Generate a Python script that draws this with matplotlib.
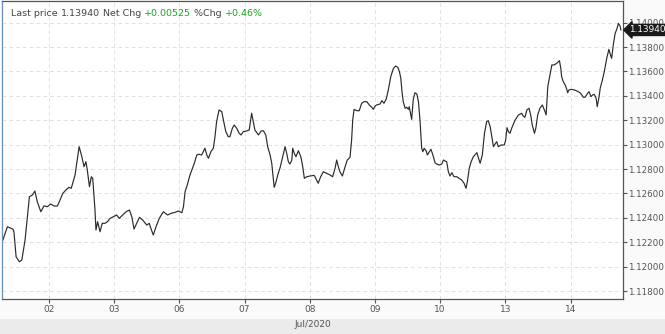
import matplotlib
matplotlib.use("Agg")
import matplotlib.pyplot as plt
from matplotlib.patches import Rectangle

# time in hours since the start of the visible window, and EUR/USD price
hours = [0.0, 2.1, 4.1, 4.5, 5.3, 6.5, 7.4, 8.6, 10.2, 11.3, 12.2, 13.1, 14.4, 15.6, 16.8,
         18.0, 19.3, 20.5, 21.2, 22.5, 23.9, 24.8, 25.6, 27.0, 28.5, 29.5, 30.3, 31.0, 31.5,
         32.3, 33.0, 33.5, 34.3, 34.7, 35.3, 36.2, 37.0, 38.0, 38.9, 39.9, 41.1, 42.3, 43.3,
         44.5, 45.8, 47.0, 47.9, 48.7, 49.7, 50.7, 51.9, 53.4, 54.3, 54.9, 55.8, 56.8, 58.0,
         59.5, 61.1, 62.3, 63.8, 65.0, 66.3, 66.9, 67.5, 68.3, 69.3, 70.2, 70.9, 71.8, 72.6,
         73.6, 74.8, 75.5, 76.1, 77.0, 77.9, 78.5, 79.1, 80.0, 81.0, 81.6, 82.5, 83.4, 84.0,
         84.9, 85.6, 86.5, 87.4, 88.1, 88.9, 90.2, 91.1, 92.0, 92.6, 93.2, 94.5, 95.5, 96.3,
         97.2, 97.9, 98.8, 99.4, 100.0, 100.3, 100.9, 101.6, 102.4, 103.3, 104.3, 104.9, 105.5,
         106.1, 106.8, 107.1, 107.7, 108.3, 109.2, 110.1, 110.7, 111.4, 112.3, 113.5,
         115.0, 115.3, 116.5, 117.4, 118.4, 119.6, 120.9, 121.8, 122.7, 123.3, 123.9, 124.5,
         125.4, 126.4, 127.2, 128.2, 128.8, 129.2, 129.7, 130.7, 131.6, 132.5, 133.4, 134.4,
         135.3, 136.2, 136.8, 137.4, 138.0, 139.3, 139.9, 140.7, 141.5, 142.3, 143.2, 144.2,
         145.0, 145.8, 146.4, 146.9, 147.4, 147.8, 148.5, 149.1, 149.7, 150.0, 150.6, 150.9,
         151.5, 152.1, 152.8, 153.4, 154.0, 154.6, 155.0, 155.5, 156.2, 156.7, 157.4, 158.0,
         158.7, 159.5, 160.1, 161.1, 162.0, 162.6, 163.2, 163.8, 164.4, 165.0, 165.7, 166.5,
         167.5, 168.4, 169.3, 170.2, 170.9, 171.4, 172.1,
         172.8, 173.6, 174.9, 176.1, 176.9, 177.7, 178.5, 179.1, 179.8, 180.4, 181.0, 181.6,
         182.2, 182.8, 183.8, 185.0, 185.5, 186.0, 186.5, 187.1, 187.7, 189.0, 190.2, 191.4,
         192.0, 192.6, 193.3, 194.1, 194.7, 195.3, 196.1, 196.6, 197.3, 198.1, 199.0, 200.0,
         200.4, 201.0, 201.8, 202.5, 203.3, 204.3, 205.3, 205.8, 206.1, 206.7, 207.4, 208.0,
         208.3, 208.8, 209.6, 210.8, 212.2, 213.1, 214.1, 214.7, 215.7, 216.2, 216.9, 217.5,
         218.1, 218.8, 219.2, 219.9, 220.3, 221.1, 221.8, 222.7, 223.5, 223.9, 224.5, 225.1,
         225.8, 226.4, 227.0, 227.6, 227.9]
prices = [1.12191, 1.12327, 1.12308, 1.12286, 1.12081, 1.12040, 1.12054, 1.12218, 1.12573,
          1.12587, 1.12620, 1.12532, 1.12450, 1.12499, 1.12491, 1.12513, 1.12497, 1.12497,
          1.12532, 1.12601, 1.12634, 1.12650, 1.12642, 1.12751, 1.12983, 1.12901, 1.12819,
          1.12860, 1.12792, 1.12655, 1.12737, 1.12724, 1.12478, 1.12300, 1.12368, 1.12286,
          1.12355, 1.12355, 1.12368, 1.12396, 1.12409, 1.12423, 1.12396, 1.12423, 1.12450,
          1.12464, 1.12409, 1.12308, 1.12355, 1.12404, 1.12382, 1.12341, 1.12355, 1.12314,
          1.12259, 1.12327, 1.12396,
          1.12450, 1.12423, 1.12437, 1.12445, 1.12456, 1.12442, 1.12491, 1.12614, 1.12669,
          1.12751, 1.12806, 1.12847, 1.12915, 1.12921, 1.12915, 1.12970, 1.12915, 1.12888,
          1.12942, 1.12970, 1.13065, 1.13188, 1.13284, 1.13270, 1.13202, 1.13106, 1.13065,
          1.13065, 1.13134, 1.13161, 1.13134, 1.13093, 1.13079, 1.13106, 1.13112, 1.13120,
          1.13257, 1.13188, 1.13120, 1.13079, 1.13112, 1.13114, 1.13079, 1.12983, 1.12915,
          1.12847, 1.12710, 1.12650, 1.12688, 1.12751, 1.12806, 1.12888, 1.12983, 1.12929,
          1.12860, 1.12841, 1.12874, 1.12970, 1.12929, 1.12901, 1.12950, 1.12901, 1.12833,
          1.12724, 1.12737, 1.12743,
          1.12748, 1.12737, 1.12683, 1.12737, 1.12778, 1.12765, 1.12751, 1.12737, 1.12806,
          1.12874, 1.12819, 1.12778, 1.12743, 1.12819, 1.12874, 1.12896, 1.13038, 1.13202,
          1.13289, 1.13278, 1.13278, 1.13339, 1.13352, 1.13352, 1.13325, 1.13306, 1.13289,
          1.13316, 1.13325, 1.13333, 1.13360, 1.13339, 1.13371, 1.13448, 1.13557, 1.13625,
          1.13644, 1.13634, 1.13598, 1.13544, 1.13421, 1.13352, 1.13298, 1.13306, 1.13289,
          1.13311, 1.13243, 1.13207, 1.13371, 1.13425, 1.13415, 1.13352, 1.13188, 1.12970,
          1.12942, 1.12970, 1.12950, 1.12915, 1.12942, 1.12962, 1.12915, 1.12852, 1.12841,
          1.12833, 1.12841, 1.12874, 1.12866, 1.12860, 1.12778, 1.12743, 1.12770, 1.12737,
          1.12737, 1.12724, 1.12710, 1.12683, 1.12642, 1.12696, 1.12806,
          1.12860, 1.12901, 1.12934, 1.12847, 1.12915, 1.13093, 1.13188, 1.13196, 1.13147,
          1.13065, 1.12983, 1.13005, 1.13024, 1.12983, 1.12997, 1.12997, 1.13038, 1.13139,
          1.13106, 1.13093, 1.13134, 1.13202, 1.13243, 1.13257, 1.13234, 1.13224, 1.13284,
          1.13298, 1.13243, 1.13161, 1.13093, 1.13134, 1.13243, 1.13298, 1.13325, 1.13270,
          1.13243, 1.13475, 1.13571, 1.13653, 1.13653, 1.13666, 1.13688, 1.13625, 1.13557,
          1.13516, 1.13489, 1.13453, 1.13425, 1.13448, 1.13453, 1.13448, 1.13434, 1.13421,
          1.13388, 1.13388, 1.13421, 1.13434, 1.13393, 1.13407, 1.13412, 1.13380, 1.13311,
          1.13393, 1.13462, 1.13530, 1.13598, 1.13707, 1.13781, 1.13748, 1.13707, 1.13816,
          1.13912, 1.13945, 1.13994, 1.13972, 1.13940]

day_labels = ["02", "03", "06", "07", "08", "09", "10", "13", "14"]
day_hours = [17.4 + 24 * i for i in range(len(day_labels))]
y_ticks = [1.118, 1.120, 1.122, 1.124, 1.126, 1.128, 1.130, 1.132, 1.134, 1.136, 1.138, 1.140]
last_price = "1.13940"
net_chg = "+0.00525"
pct_chg = "+0.46%"
month_label = "Jul/2020"

W, H = 665, 334
fig = plt.figure(figsize=(W / 100, H / 100), dpi=100)
fig.patch.set_facecolor("#fafafa")
# bottom band
fig.patches.append(Rectangle((0, 0), 1, 15 / H, transform=fig.transFigure,
                             facecolor="#ebebeb", edgecolor="none", zorder=-1))

ax = fig.add_axes([1.7 / W, 1 - 298.5 / H, (623.3 - 1.7) / W, (298.5 - 1) / H])
ax.set_facecolor("white")
ax.plot(hours, prices, color="#2b2b2b", lw=0.85)
ax.set_xlim(0, 228.8)
ax.set_ylim(1.11739, 1.14177)

ax.set_yticks(y_ticks)
ax.set_yticklabels([f"{v:.5f}" for v in y_ticks])
ax.yaxis.tick_right()
ax.set_xticks(day_hours)
ax.set_xticklabels(day_labels)
ax.tick_params(axis="y", direction="out", length=3, width=0.8, color="#555555",
               labelsize=6.3, labelcolor="#555555", pad=0.5)
ax.tick_params(axis="x", direction="out", length=3, width=0.8, color="#555555",
               labelsize=6.5, labelcolor="#555555", pad=2)
ax.grid(True, color="#e2e2e2", linestyle=(0, (4, 3)), lw=0.7)
for s in ax.spines.values():
    s.set_color("#555555")
    s.set_linewidth(0.9)
ax.spines["left"].set_color("#6a8fb8")

ax.set_xlabel(month_label, fontsize=6.5, color="#555555", labelpad=4)

# header
fs = 6.8
parts = [("Last price ", "#444444"), (last_price, "#444444"), (" Net Chg ", "#444444"),
         (net_chg, "#22a022"), (" %Chg ", "#444444"), (pct_chg, "#22a022")]
fig.canvas.draw()
renderer = fig.canvas.get_renderer()
x0 = 11
for txt, col in parts:
    tt = fig.text(x0 / W, 1 - 13.5 / H, txt, fontsize=fs, color=col, va="center", ha="left")
    bb = tt.get_window_extent(renderer=renderer)
    x0 += bb.width

# last price tag
ax.annotate(last_price, xy=(1.0, float(last_price)), xycoords=("axes fraction", "data"),
            xytext=(4.5, 0), textcoords="offset points", ha="left", va="center",
            fontsize=6.4, color="white",
            bbox=dict(boxstyle="larrow,pad=0.12", fc="#1a1a1a", ec="#1a1a1a"))

fig.savefig("out.png", dpi=100, facecolor=fig.get_facecolor())
